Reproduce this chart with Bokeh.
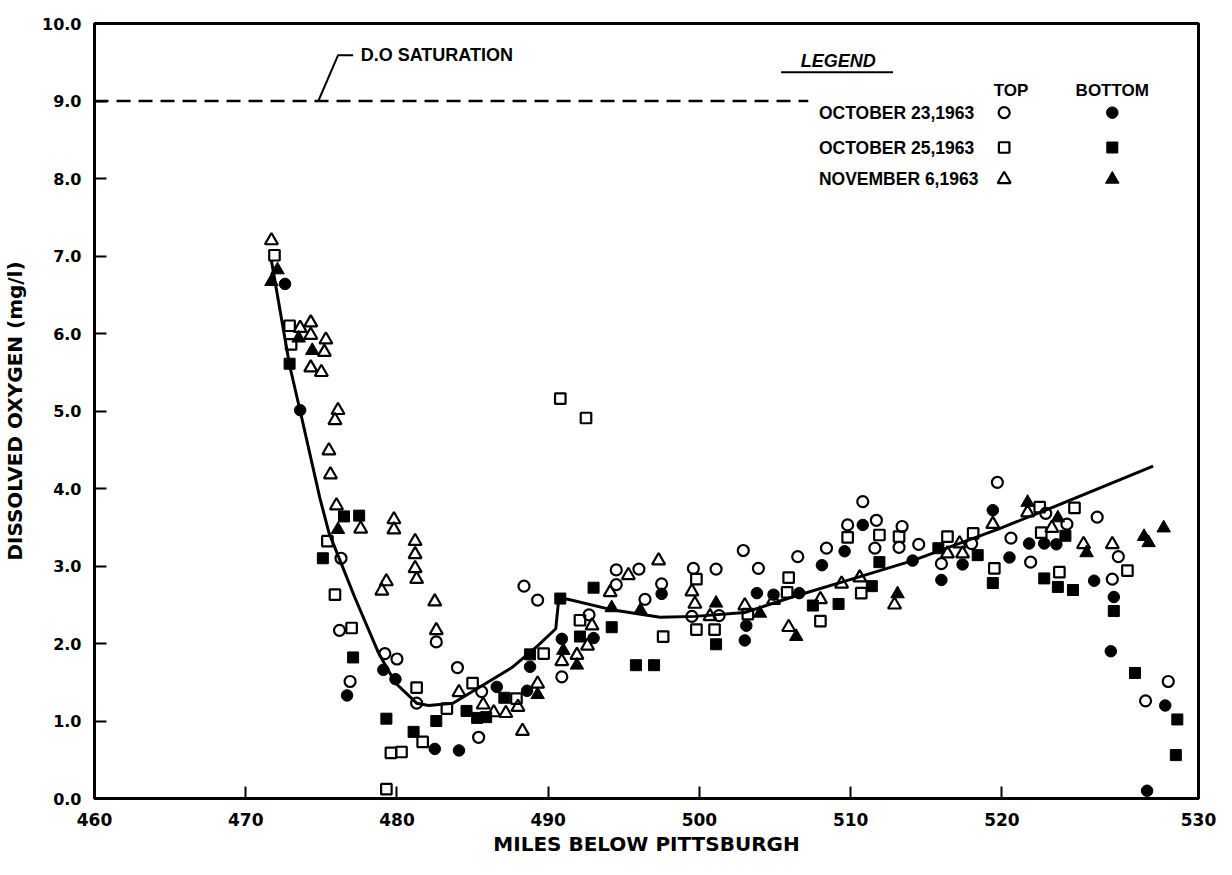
from bokeh.plotting import figure
from bokeh.models import FixedTicker, Range1d, PrintfTickFormatter
from bokeh.embed import file_html
from bokeh.resources import INLINE
from bokeh.core.properties import value

# ---------------- data (miles below Pittsburgh, dissolved oxygen mg/l) ----------------
X_TICKS = [460, 470, 480, 490, 500, 510, 520]
X_END = 533            # right edge of the drawn axis
X_END_LABEL = "530"    # label printed at the right corner
Y_TICKS = [0, 1, 2, 3, 4, 5, 6, 7, 8, 9, 10]
DO_SATURATION = 9.0

# October 23, 1963 - top (open circles)
oct23_top_mi = [476.2, 476.3, 476.9, 479.2, 480.0, 481.3, 482.6, 484.0, 485.4, 485.6,
                488.4, 489.3, 490.9, 492.7, 494.5, 494.5, 496.0, 496.4, 497.5, 499.5,
                499.6, 501.1, 501.3, 502.9, 503.9, 506.5, 508.4, 509.8, 510.8, 511.6,
                511.7, 513.2, 513.4, 514.5, 516.0, 518.0, 519.7, 520.6, 521.9, 522.9,
                524.3, 526.3, 527.3, 527.7, 529.5, 531.0]
oct23_top_do = [2.17, 3.10, 1.51, 1.87, 1.80, 1.23, 2.02, 1.69, 0.79, 1.38,
                2.74, 2.56, 1.57, 2.37, 2.76, 2.95, 2.96, 2.57, 2.77, 2.35,
                2.97, 2.96, 2.36, 3.20, 2.97, 3.12, 3.23, 3.53, 3.83, 3.23,
                3.59, 3.24, 3.51, 3.28, 3.03, 3.29, 4.08, 3.36, 3.05, 3.68,
                3.54, 3.63, 2.83, 3.12, 1.26, 1.51]

# October 23, 1963 - bottom (filled circles)
oct23_bot_mi = [472.6, 473.6, 476.7, 479.1, 479.9, 482.5, 484.1, 486.6, 488.6, 488.8,
                490.9, 493.0, 497.5, 503.0, 503.1, 503.8, 504.9, 506.6, 508.1, 509.6,
                510.8, 514.1, 516.0, 517.4, 519.4, 520.5, 521.8, 522.8, 523.6, 526.1,
                527.2, 527.4, 529.6, 530.8]
oct23_bot_do = [6.64, 5.01, 1.33, 1.66, 1.54, 0.64, 0.62, 1.44, 1.39, 1.70,
                2.06, 2.07, 2.64, 2.04, 2.23, 2.65, 2.63, 2.65, 3.01, 3.19,
                3.53, 3.07, 2.82, 3.02, 3.72, 3.11, 3.29, 3.29, 3.28, 2.81,
                1.90, 2.60, 0.10, 1.20]

# October 25, 1963 - top (open squares)
oct25_top_mi = [471.9, 472.9, 473.0, 475.4, 475.9, 477.0, 479.3, 479.6, 480.3, 481.3,
                481.7, 483.3, 485.0, 487.9, 489.7, 490.8, 492.1, 492.5, 497.6, 499.8,
                499.8, 501.0, 503.2, 505.8, 505.9, 508.0, 509.8, 510.7, 511.9, 513.2,
                516.4, 518.1, 519.5, 522.5, 522.6, 523.8, 524.8, 528.3]
oct25_top_do = [7.01, 6.10, 5.86, 3.32, 2.63, 2.20, 0.12, 0.59, 0.60, 1.43,
                0.73, 1.16, 1.49, 1.29, 1.87, 5.16, 2.30, 4.91, 2.09, 2.83,
                2.18, 2.18, 2.38, 2.66, 2.85, 2.29, 3.37, 2.65, 3.40, 3.38,
                3.38, 3.42, 2.97, 3.76, 3.43, 2.92, 3.75, 2.94]

# October 25, 1963 - bottom (filled squares)
oct25_bot_mi = [472.9, 475.1, 476.5, 477.1, 477.5, 479.3, 481.1, 482.6, 484.6, 485.3,
                485.9, 487.1, 488.8, 490.8, 492.1, 493.0, 494.2, 495.8, 497.0, 501.1,
                507.5, 509.2, 511.4, 511.9, 515.8, 518.4, 519.4, 522.8, 523.7, 524.2,
                524.7, 527.4, 528.8, 531.5, 531.6]
oct25_bot_do = [5.61, 3.10, 3.64, 1.82, 3.65, 1.03, 0.86, 1.00, 1.13, 1.04,
                1.05, 1.30, 1.86, 2.58, 2.09, 2.72, 2.21, 1.72, 1.72, 1.99,
                2.49, 2.51, 2.74, 3.05, 3.23, 3.14, 2.78, 2.84, 2.73, 3.39,
                2.69, 2.42, 1.62, 0.56, 1.02]

# November 6, 1963 - top (open triangles)
nov6_top_mi = [471.7, 473.6, 474.3, 474.3, 474.3, 475.0, 475.2, 475.3, 475.5, 475.6,
               475.9, 476.0, 476.1, 477.6, 479.0, 479.3, 479.8, 479.8, 481.2, 481.2,
               481.2, 481.3, 482.5, 482.6, 484.1, 485.7, 486.4, 487.2, 488.0, 488.3,
               489.3, 490.9, 491.9, 492.6, 492.9, 494.1, 495.3, 497.3, 499.5, 499.7,
               500.7, 503.0, 504.9, 505.9, 508.0, 509.4, 510.6, 512.9, 516.4, 517.2,
               517.4, 519.4, 521.7, 523.3, 525.4, 527.3]
nov6_top_do = [7.20, 6.07, 6.14, 5.98, 5.56, 5.50, 5.76, 5.92, 4.49, 4.18,
               4.88, 3.78, 5.01, 3.48, 2.68, 2.80, 3.60, 3.47, 3.32, 3.15,
               2.97, 2.83, 2.54, 2.17, 1.37, 1.21, 1.11, 1.10, 1.18, 0.87,
               1.48, 1.77, 1.85, 1.97, 2.23, 2.66, 2.88, 3.07, 2.67, 2.51,
               2.35, 2.49, 2.56, 2.21, 2.57, 2.77, 2.85, 2.50, 3.16, 3.29,
               3.16, 3.54, 3.69, 3.49, 3.28, 3.28]

# November 6, 1963 - bottom (filled triangles)
nov6_bot_mi = [471.7, 472.1, 473.5, 474.4, 476.1, 489.3, 491.0, 491.9, 494.2, 496.1,
               501.1, 504.0, 506.4, 513.1, 521.7, 523.7, 525.6, 529.4, 529.7, 530.7]
nov6_bot_do = [6.67, 6.82, 5.94, 5.78, 3.47, 1.34, 1.91, 1.72, 2.46, 2.43,
               2.52, 2.39, 2.09, 2.64, 3.82, 3.62, 3.17, 3.38, 3.30, 3.49]

# fitted profile (solid line)
curve_mi = [471.7, 472.9, 473.6, 474.9, 475.5, 477.2, 478.8, 479.9, 481.3, 482.1,
            483.7, 485.4, 487.6, 489.3, 490.5, 490.7, 491.3, 494.1, 497.4, 499.7,
            503.0, 506.3, 510.4, 514.1, 519.8, 522.9, 530.0]
curve_do = [6.94, 5.59, 5.00, 3.88, 3.43, 2.60, 1.87, 1.49, 1.23, 1.20,
            1.23, 1.43, 1.69, 1.97, 2.19, 2.58, 2.57, 2.44, 2.34, 2.35,
            2.40, 2.61, 2.85, 3.07, 3.48, 3.72, 4.29]

legend_dates = ["OCTOBER 23,1963", "OCTOBER 25,1963", "NOVEMBER 6,1963"]

# ---------------- figure ----------------
AXIS_FONT = "DejaVu Sans"
TEXT_FONT = "Liberation Sans"

p = figure(width=1216, height=859,
           x_range=Range1d(460, X_END), y_range=Range1d(0, 10),
           output_backend="svg", toolbar_location=None,
           min_border_left=90, min_border_right=18,
           min_border_top=23, min_border_bottom=61,
           background_fill_color="white", border_fill_color="white")
p.grid.visible = False
p.outline_line_color = "black"
p.outline_line_width = 3

xa = p.xaxis[0]
xa.ticker = FixedTicker(ticks=X_TICKS + [X_END])
xa.major_label_overrides = {X_END: X_END_LABEL, str(X_END): X_END_LABEL}
xa.axis_label = "MILES BELOW PITTSBURGH"
xa.major_label_text_font_size = "17px"
xa.major_label_standoff = 14
xa.axis_label_text_font_size = "20px"
xa.axis_label_standoff = 3

ya = p.yaxis[0]
ya.ticker = FixedTicker(ticks=Y_TICKS)
ya.formatter = PrintfTickFormatter(format="%.1f")
ya.axis_label = "DISSOLVED OXYGEN (mg/l)"
ya.major_label_text_font_size = "16px"
ya.major_label_standoff = 13
ya.axis_label_text_font_size = "20px"
ya.axis_label_standoff = 12

for ax in (xa, ya):
    ax.axis_line_width = 3
    ax.axis_line_color = "black"
    ax.major_tick_in = 12
    ax.major_tick_out = 0
    ax.major_tick_line_width = 2
    ax.major_tick_line_color = "black"
    ax.minor_tick_line_color = None
    ax.major_label_text_font = AXIS_FONT
    ax.major_label_text_font_style = "bold"
    ax.major_label_text_color = "black"
    ax.axis_label_text_font = AXIS_FONT
    ax.axis_label_text_font_style = "bold"
    ax.axis_label_text_color = "black"

# saturation line and note
p.line([460, 507.2], [DO_SATURATION, DO_SATURATION], line_color="black",
       line_width=2.5, line_dash="14 8")
p.line([474.8, 476.1, 477.1], [DO_SATURATION, 9.59, 9.59], line_color="black", line_width=2)
p.text(x=[477.6], y=[9.59], text=["D.O SATURATION"], text_font=value(TEXT_FONT),
       text_font_style="bold", text_font_size="18px", text_baseline="middle",
       text_align="left", text_color="black")

# fitted curve
p.line(curve_mi, curve_do, line_color="black", line_width=3)

# data points
open_kw = dict(fill_color=None, line_color="black", line_width=2.2)
fill_kw = dict(fill_color="black", line_color="black")
p.scatter(oct23_top_mi, oct23_top_do, marker="circle", size=11, **open_kw)
p.scatter(oct25_top_mi, oct25_top_do, marker="square", size=10.5, **open_kw)
p.scatter(nov6_top_mi, nov6_top_do, marker="triangle", size=13, **open_kw)
p.scatter(oct23_bot_mi, oct23_bot_do, marker="circle", size=11.5, **fill_kw)
p.scatter(oct25_bot_mi, oct25_bot_do, marker="square", size=11, **fill_kw)
p.scatter(nov6_bot_mi, nov6_bot_do, marker="triangle", size=13.5, **fill_kw)

# legend block
p.text(x=[506.7], y=[9.52], text=["LEGEND"], text_font=value(TEXT_FONT),
       text_font_style="bold italic", text_font_size="18px", text_baseline="middle",
       text_align="left", text_color="black")
p.line([505.4, 512.8], [9.37, 9.37], line_color="black", line_width=2)
p.text(x=[520.6, 527.3], y=[9.14, 9.14], text=["TOP", "BOTTOM"], text_font=value(TEXT_FONT),
       text_font_style="bold", text_font_size="17px", text_baseline="middle",
       text_align="center", text_color="black")
row_y = [8.85, 8.40, 7.99]
p.text(x=[507.9] * 3, y=row_y, text=legend_dates, text_font=value(TEXT_FONT),
       text_font_style="bold", text_font_size="17.5px", text_baseline="middle",
       text_align="left", text_color="black")
top_x, bot_x = 520.15, 527.3
p.scatter([top_x], [row_y[0]], marker="circle", size=11, **open_kw)
p.scatter([top_x], [row_y[1]], marker="square", size=10.5, **open_kw)
p.scatter([top_x], [row_y[2]], marker="triangle", size=13, **open_kw)
p.scatter([bot_x], [row_y[0]], marker="circle", size=11.5, **fill_kw)
p.scatter([bot_x], [row_y[1]], marker="square", size=11, **fill_kw)
p.scatter([bot_x], [row_y[2]], marker="triangle", size=13.5, **fill_kw)

open("out.html", "w").write(file_html(p, INLINE))
